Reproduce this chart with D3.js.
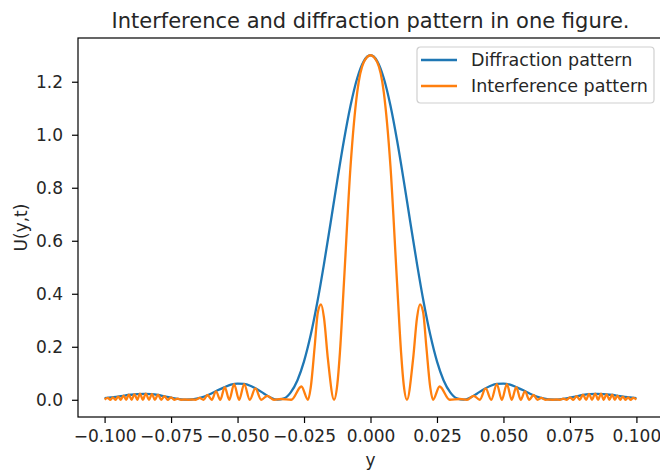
<!doctype html>
<html lang="en">
<head>
<meta charset="utf-8">
<title>Interference and diffraction pattern in one figure</title>
<script src="https://d3js.org/d3.v7.min.js"></script>
<style>
  body { margin: 0; background: #fff; }
  text { font-family: "DejaVu Sans", sans-serif; fill: #262626; }
</style>
</head>
<body>
<svg width="660" height="470"></svg>
<script>
// values as [y, U(y,t)]
var diffraction = [
  [-0.1, 0.006], [-0.0975, 0.009], [-0.095, 0.012], [-0.0925, 0.016], [-0.09, 0.019],
  [-0.0875, 0.021], [-0.085, 0.022], [-0.0825, 0.021], [-0.08, 0.018], [-0.0775, 0.013],
  [-0.075, 0.008], [-0.0725, 0.003], [-0.07, 0.0005], [-0.0675, 0.001], [-0.065, 0.005],
  [-0.0625, 0.0125], [-0.06, 0.023], [-0.0575, 0.036], [-0.055, 0.047], [-0.0525, 0.057],
  [-0.05, 0.061], [-0.0475, 0.060], [-0.045, 0.052], [-0.0425, 0.039], [-0.04, 0.023],
  [-0.0375, 0.008], [-0.035, 0.0003], [-0.0325, 0.005], [-0.03, 0.028], [-0.0275, 0.073],
  [-0.025, 0.145], [-0.0225, 0.244], [-0.02, 0.368], [-0.0175, 0.512], [-0.015, 0.668],
  [-0.0125, 0.827], [-0.01, 0.978], [-0.0075, 1.110], [-0.005, 1.213], [-0.0025, 1.278],
  [0, 1.3],
  [0.0025, 1.278], [0.005, 1.213], [0.0075, 1.110], [0.01, 0.978], [0.0125, 0.827],
  [0.015, 0.668], [0.0175, 0.512], [0.02, 0.368], [0.0225, 0.244], [0.025, 0.145],
  [0.0275, 0.073], [0.03, 0.028], [0.0325, 0.005], [0.035, 0.0003], [0.0375, 0.008],
  [0.04, 0.023], [0.0425, 0.039], [0.045, 0.052], [0.0475, 0.060], [0.05, 0.061],
  [0.0525, 0.057], [0.055, 0.047], [0.0575, 0.036], [0.06, 0.023], [0.0625, 0.0125],
  [0.065, 0.005], [0.0675, 0.001], [0.07, 0.0005], [0.0725, 0.003], [0.075, 0.008],
  [0.0775, 0.013], [0.08, 0.018], [0.0825, 0.021], [0.085, 0.022], [0.0875, 0.021],
  [0.09, 0.019], [0.0925, 0.016], [0.095, 0.012], [0.0975, 0.009], [0.1, 0.006]
];

var interference = [
  [-0.1, 0.001], [-0.0988, 0.007], [-0.0978, 0], [-0.0969, 0.009], [-0.0959, 0],
  [-0.0949, 0.012], [-0.0939, 0], [-0.0929, 0.016], [-0.0919, 0], [-0.0909, 0.019],
  [-0.0898, 0], [-0.0888, 0.021], [-0.0877, 0], [-0.0867, 0.023], [-0.0856, 0],
  [-0.0845, 0.023], [-0.0833, 0], [-0.0822, 0.022], [-0.0811, 0], [-0.0799, 0.019],
  [-0.0787, 0], [-0.0775, 0.014], [-0.0763, 0], [-0.075, 0.009], [-0.0738, 0],
  [-0.0725, 0.004], [-0.0712, 0], [-0.0699, 0.001], [-0.0685, 0], [-0.0671, 0.001],
  [-0.0657, 0], [-0.0643, 0.007], [-0.0628, 0], [-0.0613, 0.018], [-0.0597, 0],
  [-0.0581, 0.032], [-0.0565, 0], [-0.0548, 0.048], [-0.0531, 0], [-0.0513, 0.059],
  [-0.0494, 0], [-0.0475, 0.059], [-0.0454, 0], [-0.0433, 0.043], [-0.0411, 0],
  [-0.0388, 0.015], [-0.0363, 0], [-0.0336, 0.003], [-0.0298, 0], [-0.026, 0.05],
  [-0.0235, 0], [-0.0225, 0.045], [-0.021, 0.20], [-0.0198, 0.33], [-0.0186, 0.36],
  [-0.0175, 0.31], [-0.016, 0.152], [-0.0137, 0], [-0.0125, 0.056], [-0.0115, 0.178],
  [-0.01, 0.439], [-0.0075, 0.882], [-0.005, 1.160], [-0.0025, 1.274],
  [0, 1.3],
  [0.0025, 1.274], [0.005, 1.160], [0.0075, 0.882], [0.01, 0.439], [0.0115, 0.178],
  [0.0125, 0.056], [0.0137, 0], [0.016, 0.152], [0.0175, 0.31], [0.0186, 0.36],
  [0.0198, 0.33], [0.021, 0.20], [0.0225, 0.045], [0.0235, 0], [0.026, 0.05],
  [0.0298, 0], [0.0336, 0.003], [0.0363, 0], [0.0388, 0.015], [0.0411, 0],
  [0.0433, 0.043], [0.0454, 0], [0.0475, 0.059], [0.0494, 0], [0.0513, 0.059],
  [0.0531, 0], [0.0548, 0.048], [0.0565, 0], [0.0581, 0.032], [0.0597, 0],
  [0.0613, 0.018], [0.0628, 0], [0.0643, 0.007], [0.0657, 0], [0.0671, 0.001],
  [0.0685, 0], [0.0699, 0.001], [0.0712, 0], [0.0725, 0.004], [0.0738, 0],
  [0.075, 0.009], [0.0763, 0], [0.0775, 0.014], [0.0787, 0], [0.0799, 0.019],
  [0.0811, 0], [0.0822, 0.022], [0.0833, 0], [0.0845, 0.023], [0.0856, 0],
  [0.0867, 0.023], [0.0877, 0], [0.0888, 0.021], [0.0898, 0], [0.0909, 0.019],
  [0.0919, 0], [0.0929, 0.016], [0.0939, 0], [0.0949, 0.012], [0.0959, 0],
  [0.0969, 0.009], [0.0978, 0], [0.0988, 0.007], [0.1, 0.001]
];

var xTicks = [-0.1, -0.075, -0.05, -0.025, 0, 0.025, 0.05, 0.075, 0.1];
var yTicks = [0, 0.2, 0.4, 0.6, 0.8, 1.0, 1.2];
var seriesNames = ['Diffraction pattern', 'Interference pattern'];
var seriesColors = ['#1f77b4', '#ff7f0e'];

var svg = d3.select('svg');
var plotLeft = 78, plotRight = 663, plotTop = 38, plotBottom = 417;

var x = d3.scaleLinear().domain([-0.11, 0.11]).range([plotLeft, plotRight]);
var y = d3.scaleLinear().domain([-0.065, 1.365]).range([plotBottom, plotTop]);

svg.append('rect').attr('width', 660).attr('height', 470).attr('fill', '#fff');

svg.append('clipPath').attr('id', 'plot')
  .append('rect')
    .attr('x', plotLeft).attr('y', plotTop)
    .attr('width', plotRight - plotLeft).attr('height', plotBottom - plotTop);

var line = d3.line()
  .x(function(d){ return x(d[0]); })
  .y(function(d){ return y(d[1]); })
  .curve(d3.curveMonotoneX);

var g = svg.append('g').attr('clip-path', 'url(#plot)');
[diffraction, interference].forEach(function(data, i){
  g.append('path')
    .attr('d', line(data))
    .attr('fill', 'none')
    .attr('stroke', seriesColors[i])
    .attr('stroke-width', 2.3)
    .attr('stroke-linejoin', 'round');
});

// axes
var bottomAxis = d3.axisBottom(x).tickValues(xTicks)
  .tickFormat(d3.format('.3f')).tickSize(6).tickPadding(7);
var leftAxis = d3.axisLeft(y).tickValues(yTicks)
  .tickFormat(d3.format('.1f')).tickSize(6).tickPadding(9);

var xa = svg.append('g').attr('transform', 'translate(0,' + plotBottom + ')').call(bottomAxis);
var ya = svg.append('g').attr('transform', 'translate(' + plotLeft + ',0)').call(leftAxis);
[xa, ya].forEach(function(a){
  a.select('.domain').remove();
  a.selectAll('line').attr('stroke', '#000').attr('stroke-width', 1.2);
  a.selectAll('text').attr('font-size', 17).attr('fill', '#262626')
    .attr('font-family', '"DejaVu Sans", sans-serif');
});

// spines (the right one sits just outside the picture)
svg.append('rect')
  .attr('x', plotLeft).attr('y', plotTop)
  .attr('width', plotRight - plotLeft).attr('height', plotBottom - plotTop)
  .attr('fill', 'none').attr('stroke', '#000').attr('stroke-width', 1.2);

// labels
svg.append('text')
  .attr('x', (plotLeft + plotRight) / 2).attr('y', 28)
  .attr('text-anchor', 'middle').attr('font-size', 21)
  .text('Interference and diffraction pattern in one figure.');
svg.append('text')
  .attr('x', (plotLeft + plotRight) / 2).attr('y', 466)
  .attr('text-anchor', 'middle').attr('font-size', 17)
  .text('y');
svg.append('text')
  .attr('transform', 'translate(27,' + (plotTop + plotBottom) / 2 + ') rotate(-90)')
  .attr('text-anchor', 'middle').attr('font-size', 17)
  .text('U(y,t)');

// legend
var legend = svg.append('g').attr('transform', 'translate(417,47)');
legend.append('rect')
  .attr('width', 237).attr('height', 56).attr('rx', 3.5)
  .attr('fill', '#fff').attr('fill-opacity', 0.8)
  .attr('stroke', '#d0d0d0').attr('stroke-width', 1.2);
seriesNames.forEach(function(name, i){
  var row = legend.append('g').attr('transform', 'translate(0,' + (13 + i * 26) + ')');
  row.append('line')
    .attr('x1', 4).attr('x2', 40)
    .attr('stroke', seriesColors[i]).attr('stroke-width', 2.3);
  row.append('text')
    .attr('x', 54).attr('y', 6)
    .attr('font-size', 17.5)
    .text(name);
});
</script>
</body>
</html>
